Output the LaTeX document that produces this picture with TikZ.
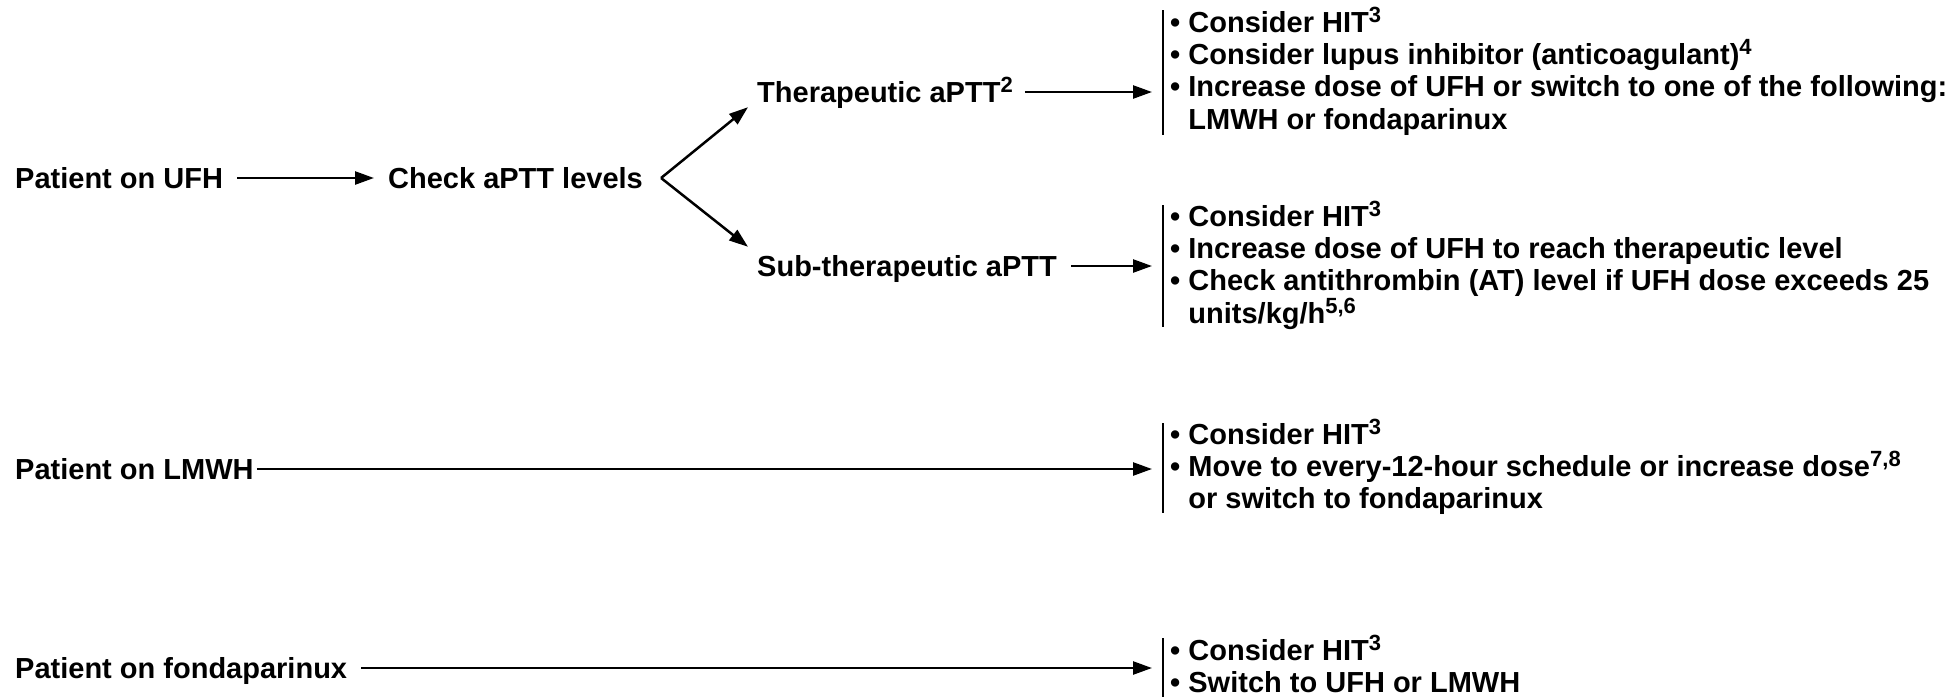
\documentclass[tikz,border=0pt]{standalone}
\usepackage{fontspec}
\setmainfont{Liberation Sans}
\usetikzlibrary{arrows.meta}
\newcommand\dgfont{\fontsize{29pt}{32.3pt}\selectfont\bfseries}
\newcommand\dgsup[1]{\raisebox{10pt}{\fontsize{22pt}{22pt}\selectfont\bfseries #1}}
\begin{document}
\begin{tikzpicture}[x=1pt,y=-1pt,
  lbl/.style={inner xsep=14pt, inner ysep=0pt, text height=21pt, text depth=0pt, anchor=west, font=\dgfont},
  blk/.style={inner xsep=18pt, inner ysep=0pt, anchor=north west, align=left, font=\dgfont},
  arr/.style={line width=2.5pt, -{Triangle[length=19pt,width=13pt]}},
  bar/.style={line width=2pt}]
\useasboundingbox (0,0) rectangle (1957,697);

% left labels
\node[lbl] (ufh) at (1,178) {Patient on UFH};
\node[lbl] (check) at (374,178) {Check aPTT levels};
\node[lbl, inner xsep=12pt] (ther) at (745,92) {Therapeutic aPTT\dgsup{2}};
\node[lbl] (sub) at (743,266) {Sub-therapeutic aPTT};
\node[lbl, inner xsep=3pt] (lmwh) at (12,469) {Patient on LMWH};
\node[lbl] (fonda) at (1,668) {Patient on fondaparinux};

% bullet blocks
\node[blk] (b1) at (1152,2) {\rule{0pt}{30pt}• Consider HIT\dgsup{3}\\
• Consider lupus inhibitor (anticoagulant)\dgsup{4}\\
• Increase dose of UFH or switch to one of the following:\\
\hphantom{• }LMWH or fondaparinux};
\node[blk] (b2) at (1152,196) {\rule{0pt}{30pt}• Consider HIT\dgsup{3}\\
• Increase dose of UFH to reach therapeutic level\\
• Check antithrombin (AT) level if UFH dose exceeds 25\\
\hphantom{• }units/kg/h\dgsup{5,6}};
\node[blk] (b3) at (1152,414) {\rule{0pt}{30pt}• Consider HIT\dgsup{3}\\
• Move to every-12-hour schedule or increase dose\dgsup{7,8}\\
\hphantom{• }or switch to fondaparinux};
\node[blk] (b4) at (1152,630) {\rule{0pt}{30pt}• Consider HIT\dgsup{3}\\
• Switch to UFH or LMWH};

% bars
\draw[bar] (1163,10) -- (1163,135);
\draw[bar] (1163,205) -- (1163,327);
\draw[bar] (1163,423) -- (1163,513);
\draw[bar] (1163,638) -- (1163,697);

% connectors
\draw[arr] (ufh.east) -- (check.west);
\coordinate (fk) at ([xshift=4pt]check.east);
\draw[arr] (fk) -- ([xshift=3pt,yshift=-4.5pt]ther.south west);
\draw[arr] (fk) -- ([xshift=5pt,yshift=8.5pt]sub.north west);
\draw[arr] (ther.east) -- (ther.east -| b1.west);
\draw[arr] (sub.east) -- (sub.east -| b2.west);
\draw[arr] (lmwh.east) -- (lmwh.east -| b3.west);
\draw[arr] (fonda.east) -- (fonda.east -| b4.west);
\end{tikzpicture}
\end{document}
